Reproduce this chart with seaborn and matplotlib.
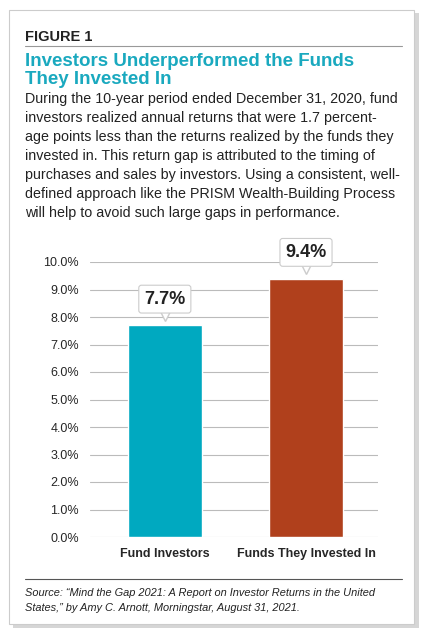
import numpy as np
import pandas as pd
import matplotlib
matplotlib.use('Agg')
import matplotlib.pyplot as plt
import seaborn as sns
from matplotlib.patches import Rectangle

categories = ['Fund Investors', 'Funds They Invested In']
returns = [7.7, 9.4]
bar_colors = ['#00a9c0', '#b0401c']
body = ["During the 10-year period ended December 31, 2020, fund",
        "investors realized annual returns that were 1.7 percent-",
        "age points less than the returns realized by the funds they",
        "invested in. This return gap is attributed to the timing of",
        "purchases and sales by investors. Using a consistent, well-",
        "defined approach like the PRISM Wealth-Building Process",
        "will help to avoid such large gaps in performance."]
source = ["Source: \u201cMind the Gap 2021: A Report on Investor Returns in the United",
          "States,\u201d by Amy C. Arnott, Morningstar, August 31, 2021."]

sns.set_style('white')
plt.rcParams['font.family'] = ['Liberation Sans', 'DejaVu Sans']

W, H = 428, 638
fig = plt.figure(figsize=(W / 100, H / 100), dpi=100)

def fx(x): return x / W
def fy(y): return 1 - y / H

# shadowed frame
fig.patches.append(Rectangle((fx(13), fy(628)), fx(406), 615 / H, transform=fig.transFigure,
                             facecolor='#bbbbbb', edgecolor='none', alpha=0.6, zorder=0))
fig.patches.append(Rectangle((fx(9), fy(624)), fx(405), 614 / H, transform=fig.transFigure,
                             facecolor='white', edgecolor='#cccccc', lw=0.8, zorder=1))

fig.text(fx(25), fy(37), 'FIGURE 1', fontsize=10.5, fontweight='bold', color='#222222', va='center')
fig.add_artist(plt.Line2D([fx(25), fx(402)], [fy(46), fy(46)], color='#999999', lw=0.8))
fig.text(fx(25), fy(61), 'Investors Underperformed the Funds', fontsize=13.5, fontweight='bold',
         color='#1aa9bf', va='center')
fig.text(fx(25), fy(79), 'They Invested In', fontsize=13.5, fontweight='bold', color='#1aa9bf', va='center')
for i, line in enumerate(body):
    fig.text(fx(25), fy(99 + i * 19), line, fontsize=10.3, color='#222222', va='center')

fig.add_artist(plt.Line2D([fx(25), fx(402)], [fy(579), fy(579)], color='#555555', lw=0.8))
for i, line in enumerate(source):
    fig.text(fx(25), fy(593 + i * 15), line, fontsize=7.9, style='italic', color='#222222', va='center')

ax = fig.add_axes([fx(90), fy(537), fx(288), (537 - 262) / H])
ax.set_zorder(3)
ax.patch.set_alpha(0)
df = pd.DataFrame({'cat': categories, 'val': returns})
sns.barplot(data=df, x='cat', y='val', hue='cat', palette=bar_colors, width=0.52,
            legend=False, ax=ax, zorder=3, saturation=1)
ax.set_ylim(0, 10)
ax.set_xlim(-0.53, 1.51)
ax.set_yticks(np.arange(0, 10.1, 1))
ax.set_yticklabels([f'{v:.1f}%' for v in np.arange(0, 10.1, 1)], fontsize=9)
ax.tick_params(axis='x', labelsize=9, length=0, pad=8)
ax.tick_params(axis='y', length=0, pad=8)
for lab in ax.get_xticklabels():
    lab.set_fontweight('bold')
ax.grid(axis='y', color='#bbbbbb', lw=0.8, zorder=0)
ax.set_axisbelow(True)
ax.set_xlabel('')
ax.set_ylabel('')
sns.despine(ax=ax, left=True, bottom=True)

for i, v in enumerate(returns):
    ax.plot(i, v + 0.35, marker='v', markersize=7, color='white', markeredgecolor='#cccccc',
            clip_on=False, zorder=5)
    ax.text(i, v + 0.95, f'{v}%', ha='center', va='center', fontsize=13, fontweight='bold',
            color='#222222', clip_on=False, zorder=6,
            bbox=dict(boxstyle='round,pad=0.3,rounding_size=0.15', facecolor='white',
                      edgecolor='#cccccc', lw=0.8))

fig.savefig('out.png', dpi=100)
